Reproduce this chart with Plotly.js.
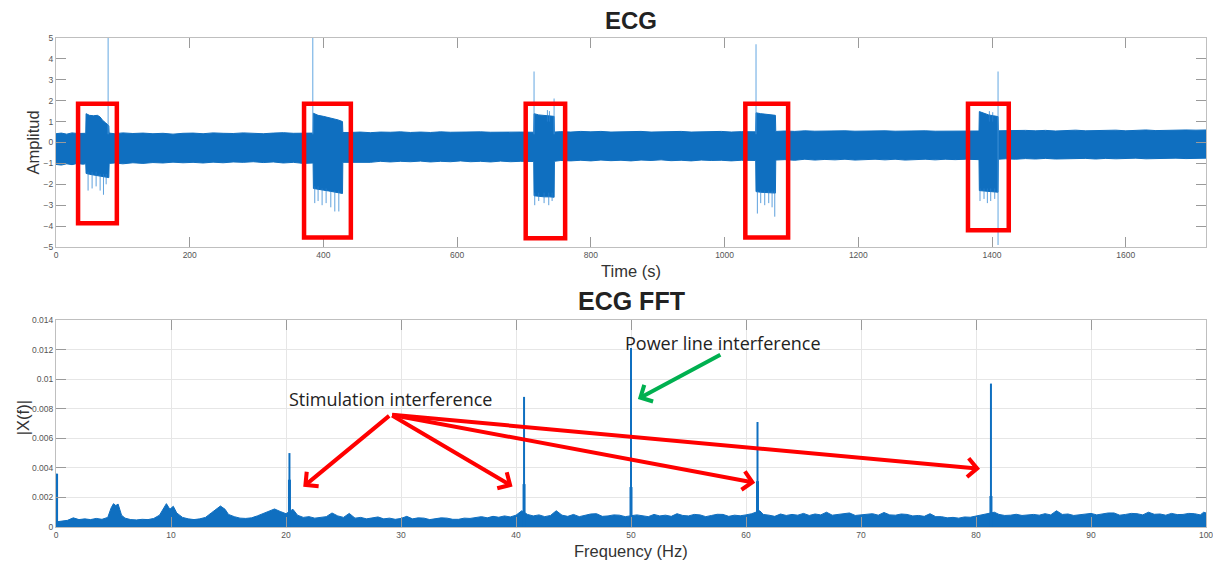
<!DOCTYPE html>
<html>
<head>
<meta charset="utf-8">
<script src="https://cdn.plot.ly/plotly-3.0.1.min.js"></script>
<style>html,body{margin:0;padding:0;background:#fff;}#chart{width:1213px;height:562px;}</style>
</head>
<body>
<div id="chart"></div>
<script>
// ---------- ECG (time domain) : envelope of the dense trace ----------
const ecgTime = [0,8,16,24,32,40,44.5,
  45,50,56,62,66,70,74,79,
  79.5,88,100,115,130,145,160,175,190,205,220,235,250,265,280,295,310,325,340,355,370,384.5,
  385,392,400,408,415,422,428.5,
  429,440,455,470,485,500,515,530,545,560,575,590,605,620,635,650,665,680,695,714.5,
  715,722,730,738,745,
  745.5,755,770,785,800,815,830,845,860,875,890,905,920,935,950,965,980,995,1010,1025,1046.5,
  1047,1054,1062,1070,1076,
  1076.5,1090,1105,1120,1135,1150,1165,1180,1195,1210,1225,1240,1255,1270,1285,1300,1315,1330,1345,1360,1380.5,
  1381,1388,1395,1402,1409,
  1409.5,1420,1435,1450,1465,1480,1495,1510,1525,1540,1555,1570,1585,1600,1615,1630,1645,1660,1675,1690,1705,1720];
const ecgUpper = [0.42,0.45,0.40,0.46,0.43,0.45,0.44,
  1.38,1.30,1.28,1.30,1.22,1.05,0.95,0.80,
  0.45,0.42,0.46,0.43,0.45,0.42,0.44,0.40,0.44,0.45,0.42,0.46,0.44,0.43,0.46,0.44,0.42,0.45,0.47,0.44,0.46,0.45,
  1.40,1.30,1.25,1.20,1.15,1.08,1.00,
  0.48,0.48,0.50,0.47,0.50,0.49,0.51,0.48,0.50,0.48,0.51,0.49,0.50,0.48,0.51,0.49,0.50,0.48,0.50,0.49,
  1.38,1.32,1.30,1.28,1.25,
  0.50,0.52,0.50,0.53,0.51,0.53,0.50,0.52,0.51,0.53,0.50,0.52,0.51,0.53,0.50,0.52,0.51,0.53,0.50,0.52,0.51,
  1.42,1.38,1.35,1.32,1.30,
  0.53,0.55,0.53,0.56,0.54,0.55,0.53,0.56,0.54,0.55,0.53,0.56,0.54,0.55,0.53,0.56,0.54,0.55,0.53,0.56,0.55,
  1.48,1.40,1.32,1.28,1.24,
  0.56,0.57,0.55,0.58,0.56,0.58,0.55,0.57,0.59,0.56,0.58,0.57,0.59,0.56,0.58,0.60,0.57,0.59,0.58,0.60,0.59,0.60];
const ecgLower = [-1.05,-1.08,-1.02,-1.06,-1.00,-1.04,-1.02,
  -1.48,-1.52,-1.55,-1.58,-1.60,-1.62,-1.65,-1.68,
  -1.00,-0.98,-1.02,-0.97,-1.00,-0.96,-0.98,-0.94,-0.97,-0.95,-0.98,-0.94,-0.97,-0.93,-0.95,-0.92,-0.96,-0.93,-0.98,-0.95,-1.00,-0.98,
  -2.20,-2.25,-2.28,-2.32,-2.36,-2.40,-2.44,
  -0.95,-0.95,-0.92,-0.95,-0.90,-0.93,-0.90,-0.92,-0.89,-0.93,-0.90,-0.92,-0.88,-0.92,-0.90,-0.93,-0.89,-0.92,-0.90,-0.91,
  -2.55,-2.58,-2.60,-2.60,-2.62,
  -0.90,-0.86,-0.88,-0.85,-0.88,-0.84,-0.87,-0.85,-0.88,-0.84,-0.86,-0.83,-0.87,-0.85,-0.88,-0.84,-0.86,-0.85,-0.88,-0.85,-0.86,
  -2.35,-2.38,-2.40,-2.42,-2.42,
  -0.84,-0.82,-0.85,-0.80,-0.84,-0.81,-0.83,-0.80,-0.84,-0.82,-0.80,-0.83,-0.80,-0.84,-0.81,-0.80,-0.83,-0.80,-0.82,-0.80,-0.82,
  -2.30,-2.32,-2.34,-2.36,-2.38,
  -0.80,-0.78,-0.80,-0.77,-0.79,-0.76,-0.79,-0.77,-0.78,-0.76,-0.79,-0.76,-0.78,-0.77,-0.75,-0.78,-0.76,-0.77,-0.75,-0.77,-0.76,-0.75];

// tall isolated spikes (thin light lines)
const ecgSpikeTime = [78, 384, 715, 745, 1047, 1409];
const ecgSpikeLow  = [0.4, 0.4, 0.4, 0.4, 0.4, -4.9];
const ecgSpikeHigh = [5.0, 5.0, 3.4, 2.1, 4.7, 3.4];

// hairs poking out of the stimulation bursts
const ecgHairTime = [48,54,60,66,71,75, 387,392,398,404,411,417,423, 716,722,730,737,742, 1049,1054,1060,1066,1071,1075, 1382,1388,1393,1398,1404, 735,738,1396,1401];
const ecgHairLow  = [-2.3,-2.2,-2.1,-2.3,-2.5,-2.0, -2.9,-2.8,-3.0,-2.9,-3.1,-3.3,-3.3, -3.0,-2.8,-2.9,-3.0,-2.8, -3.4,-2.9,-3.0,-2.9,-3.1,-3.55, -2.8,-2.7,-2.9,-2.8,-2.7, 1.0,1.0,1.0,1.0];
const ecgHairHigh = [-1.4,-1.4,-1.4,-1.5,-1.5,-1.5, -2.1,-2.1,-2.2,-2.2,-2.3,-2.3,-2.3, -2.4,-2.4,-2.4,-2.4,-2.4, -2.3,-2.3,-2.3,-2.3,-2.3,-2.3, -2.2,-2.2,-2.2,-2.2,-2.2, 1.55,1.5,1.5,1.45];

// red highlight boxes (time start, time end, amplitude bottom, amplitude top)
const boxT0 = [33, 371, 702.5, 1031, 1364];
const boxT1 = [91, 441, 761.5, 1095, 1425];
const boxA0 = [-3.86, -4.55, -4.58, -4.55, -4.2];
const boxA1 = [1.85, 1.85, 1.85, 1.85, 1.85];

// ---------- FFT ----------
const fftFreq = [0.05,0.5,1.0,1.5,2.0,2.5,3.0,3.5,4.0,4.5,4.8,5.0,5.2,5.4,5.7,6.0,6.5,7.0,7.5,8.0,8.5,9.0,9.4,9.6,9.9,10.2,10.5,11.0,11.5,12.0,12.5,13.0,13.5,14.0,14.3,14.7,15.0,15.5,16.0,16.5,17.0,17.5,18.0,18.5,19.0,19.5,20.0,20.6,21.0,21.5,22.0,22.5,23.0,23.5,24.0,24.5,25.0,25.5,
  26.0,26.5,27.0,27.5,28.0,28.5,29.0,29.5,30.0,30.5,31.0,31.5,32.0,32.5,33.0,33.5,34.0,34.5,35.0,35.5,36.0,36.5,37.0,37.5,38.0,38.5,39.0,39.5,40.0,40.5,41.0,41.5,42.0,42.5,43.0,43.5,44.0,44.5,45.0,45.5,46.0,46.5,47.0,47.5,48.0,48.5,49.0,49.5,
  50.5,51.0,51.5,52.0,52.5,53.0,53.5,54.0,54.5,55.0,55.5,56.0,56.5,57.0,57.5,58.0,58.5,59.0,59.5,60.0,60.5,61.2,61.5,62.0,62.5,63.0,63.5,64.0,64.5,65.0,65.5,66.0,66.5,67.0,67.5,68.0,68.5,69.0,69.5,70.0,70.5,71.0,71.5,72.0,72.5,73.0,73.5,74.0,74.5,75.0,75.5,76.0,76.5,77.0,77.5,78.0,78.5,79.0,79.5,80.0,80.8,
  81.6,82.0,82.5,83.0,83.5,84.0,84.5,85.0,85.5,86.0,86.5,87.0,87.5,88.0,88.5,89.0,89.5,90.0,90.5,91.0,91.5,92.0,92.5,93.0,93.5,94.0,94.5,95.0,95.5,96.0,96.5,97.0,97.5,98.0,98.5,99.0,99.5,99.8,100.0];
const fftMag = [0.00035,0.00040,0.00045,0.00062,0.00050,0.00055,0.00050,0.00058,0.00052,0.00065,0.00130,0.00158,0.00145,0.00155,0.00080,0.00060,0.00050,0.00048,0.00052,0.00050,0.00058,0.00080,0.00130,0.00158,0.00120,0.00140,0.00095,0.00065,0.00055,0.00050,0.00055,0.00065,0.00095,0.00125,0.00142,0.00120,0.00085,0.00070,0.00060,0.00058,0.00062,0.00075,0.00090,0.00110,0.00122,0.00105,0.00090,0.00120,0.00080,0.00065,0.00070,0.00060,0.00065,0.00070,0.00095,0.00075,0.00065,0.00092,
  0.00060,0.00065,0.00055,0.00062,0.00068,0.00055,0.00060,0.00052,0.00058,0.00072,0.00055,0.00062,0.00060,0.00050,0.00055,0.00062,0.00060,0.00052,0.00052,0.00060,0.00058,0.00065,0.00070,0.00062,0.00072,0.00066,0.00075,0.00068,0.00080,0.00110,0.00085,0.00075,0.00082,0.00070,0.00078,0.00110,0.00080,0.00072,0.00085,0.00070,0.00078,0.00088,0.00090,0.00072,0.00075,0.00082,0.00080,0.00070,
  0.00082,0.00078,0.00070,0.00085,0.00075,0.00080,0.00072,0.00090,0.00078,0.00075,0.00085,0.00082,0.00070,0.00078,0.00086,0.00085,0.00072,0.00080,0.00076,0.00082,0.00090,0.00110,0.00085,0.00080,0.00072,0.00088,0.00078,0.00085,0.00080,0.00092,0.00078,0.00088,0.00082,0.00100,0.00080,0.00085,0.00092,0.00095,0.00078,0.00082,0.00088,0.00090,0.00080,0.00098,0.00082,0.00080,0.00088,0.00085,0.00075,0.00078,0.00072,0.00090,0.00070,0.00070,0.00062,0.00065,0.00060,0.00068,0.00066,0.00075,0.00090,
  0.00100,0.00085,0.00078,0.00080,0.00086,0.00078,0.00084,0.00085,0.00080,0.00090,0.00082,0.00110,0.00085,0.00088,0.00078,0.00082,0.00090,0.00092,0.00082,0.00088,0.00095,0.00095,0.00080,0.00085,0.00092,0.00090,0.00082,0.00100,0.00086,0.00088,0.00080,0.00092,0.00084,0.00085,0.00092,0.00090,0.00082,0.00100,0.00095];

const fftSpikeFreq = [0.05, 20.3, 40.7, 50.0, 61.0, 81.3];
const fftSpikeTop  = [0.0036, 0.0050, 0.0088, 0.0121, 0.0071, 0.0097];
const fftSpikeMid  = [0.0036, 0.0032, 0.0029, 0.0027, 0.0031, 0.0021];

const xTicksECG = [0,200,400,600,800,1000,1200,1400,1600];
const yTicksECG = [-5,-4,-3,-2,-1,0,1,2,3,4,5];
const xTicksFFT = [0,10,20,30,40,50,60,70,80,90,100];
const yTicksFFT = [0,0.002,0.004,0.006,0.008,0.010,0.012,0.014];
const yTickTextFFT = ['0','0.002','0.004','0.006','0.008','0.01','0.012','0.014'];

// annotation labels
const stimLabel = 'Stimulation interference';
const powerLabel = 'Power line interference';
const stimOrigin = [29.1, 0.0076];
const stimTipsF = [21.5, 39.7, 60.8, 80.35];
const stimTipsA = [0.00272, 0.00274, 0.00299, 0.00394];
const powerTail = [57.9, 0.0117];
const powerTip = [50.6, 0.00866];

// ---------- build ----------
const BLUE = '#0f6fc0';
function segments(xs, lo, hi) {
  const x = [], y = [];
  xs.forEach((v, i) => { x.push(v, v, null); y.push(lo[i], hi[i], null); });
  return {x, y};
}
const spk = segments(ecgSpikeTime, ecgSpikeLow, ecgSpikeHigh);
const hair = segments(ecgHairTime, ecgHairLow, ecgHairHigh);
const fftThin = segments(fftSpikeFreq, fftSpikeFreq.map(() => 0), fftSpikeTop);
const fftThick = segments(fftSpikeFreq, fftSpikeFreq.map(() => 0), fftSpikeMid);

const traces = [
  {x: ecgTime, y: ecgLower, type: 'scatter', mode: 'lines', line: {color: BLUE, width: 1}, xaxis: 'x', yaxis: 'y', hoverinfo: 'skip'},
  {x: ecgTime, y: ecgUpper, type: 'scatter', mode: 'lines', fill: 'tonexty', fillcolor: BLUE, line: {color: BLUE, width: 1}, xaxis: 'x', yaxis: 'y'},
  {x: hair.x, y: hair.y, type: 'scatter', mode: 'lines', line: {color: 'rgba(40,130,210,0.75)', width: 1}, xaxis: 'x', yaxis: 'y', connectgaps: false},
  {x: spk.x, y: spk.y, type: 'scatter', mode: 'lines', line: {color: 'rgba(70,150,220,0.65)', width: 1.3}, xaxis: 'x', yaxis: 'y', connectgaps: false},
  {x: fftFreq, y: fftMag, type: 'scatter', mode: 'lines', fill: 'tozeroy', fillcolor: BLUE, line: {color: BLUE, width: 1}, xaxis: 'x2', yaxis: 'y2'},
  {x: fftThin.x, y: fftThin.y, type: 'scatter', mode: 'lines', line: {color: BLUE, width: 2}, xaxis: 'x2', yaxis: 'y2', connectgaps: false},
  {x: fftThick.x, y: fftThick.y, type: 'scatter', mode: 'lines', line: {color: BLUE, width: 3}, xaxis: 'x2', yaxis: 'y2', connectgaps: false}
];

const shapes = boxT0.map((t0, i) => ({
  type: 'rect', xref: 'x', yref: 'y', x0: t0, x1: boxT1[i], y0: boxA0[i], y1: boxA1[i],
  line: {color: '#ff0000', width: 4.5}, fillcolor: 'rgba(0,0,0,0)'
}));

const tickFont = {family: 'Liberation Sans, Arial, sans-serif', size: 8.5, color: '#555'};
const axCommon = {
  showline: true, linecolor: '#bfbfbf', linewidth: 1, mirror: 'ticks',
  ticks: 'inside', ticklen: 10, tickcolor: '#9a9a9a', tickwidth: 1,
  zeroline: false, tickfont: tickFont, fixedrange: true, ticklabeloverflow: 'allow'
};

const ann = [];
const titleFont = {family: 'Liberation Sans, Arial, sans-serif', color: '#222'};
const labFont = {family: 'Liberation Sans, Arial, sans-serif', size: 16.5, color: '#333'};
ann.push({text: '<b>ECG</b>', xref: 'paper', yref: 'paper', x: 0.5, y: 1.0368, showarrow: false, xanchor: 'center', yanchor: 'middle', font: Object.assign({size: 24}, titleFont)});
ann.push({text: '<b>ECG FFT</b>', xref: 'paper', yref: 'paper', x: 0.5, y: 0.4622, showarrow: false, xanchor: 'center', yanchor: 'middle', font: Object.assign({size: 25}, titleFont)});
ann.push({text: 'Time (s)', xref: 'paper', yref: 'paper', x: 0.5, y: 0.5235, showarrow: false, xanchor: 'center', yanchor: 'middle', font: labFont});
ann.push({text: 'Frequency (Hz)', xref: 'paper', yref: 'paper', x: 0.5, y: -0.0491, showarrow: false, xanchor: 'center', yanchor: 'middle', font: labFont});
ann.push({text: 'Amplitud', xref: 'paper', yref: 'paper', x: -0.02, y: 0.7863, textangle: -90, showarrow: false, xanchor: 'center', yanchor: 'middle', font: labFont});
ann.push({text: '|X(f)|', xref: 'paper', yref: 'paper', x: -0.0285, y: 0.223, textangle: -90, showarrow: false, xanchor: 'center', yanchor: 'middle', font: labFont});

const noteFont = {family: 'Open Sans, Noto Sans, sans-serif', size: 18, color: '#222'};
ann.push({text: stimLabel, xref: 'x2', yref: 'y2', x: 29.05, y: 0.00867, showarrow: false, xanchor: 'center', yanchor: 'middle', font: noteFont});
ann.push({text: powerLabel, xref: 'x2', yref: 'y2', x: 57.96, y: 0.01245, showarrow: false, xanchor: 'center', yanchor: 'middle', font: noteFont});
stimTipsF.forEach((f, i) => {
  ann.push({text: '', xref: 'x2', yref: 'y2', axref: 'x2', ayref: 'y2', x: f, y: stimTipsA[i], ax: stimOrigin[0], ay: stimOrigin[1],
    showarrow: true, arrowhead: 4, arrowsize: 0.9, arrowwidth: 4, arrowcolor: '#ff0000', standoff: 0, startstandoff: 0});
});
ann.push({text: '', xref: 'x2', yref: 'y2', axref: 'x2', ayref: 'y2', x: powerTip[0], y: powerTip[1], ax: powerTail[0], ay: powerTail[1],
  showarrow: true, arrowhead: 4, arrowsize: 0.9, arrowwidth: 4, arrowcolor: '#00b050', standoff: 0, startstandoff: 0});

const layout = {
  width: 1213, height: 562,
  margin: {l: 56, r: 7, t: 38, b: 35},
  paper_bgcolor: '#fff', plot_bgcolor: '#fff',
  showlegend: false,
  xaxis: Object.assign({}, axCommon, {domain: [0, 1], anchor: 'y', range: [0, 1720], tickvals: xTicksECG, showgrid: false}),
  yaxis: Object.assign({}, axCommon, {domain: [0.5726, 1], anchor: 'x', range: [-5, 5], tickvals: yTicksECG, showgrid: false}),
  xaxis2: Object.assign({}, axCommon, {domain: [0, 1], anchor: 'y2', range: [0, 100.0001], tickvals: xTicksFFT, showgrid: true, gridcolor: '#e6e6e6'}),
  yaxis2: Object.assign({}, axCommon, {domain: [0, 0.4233], anchor: 'x2', range: [0, 0.014], tickvals: yTicksFFT, ticktext: yTickTextFFT, showgrid: true, gridcolor: '#e6e6e6'}),
  shapes: shapes,
  annotations: ann
};

Plotly.newPlot('chart', traces, layout, {displayModeBar: false, staticPlot: true});
</script>
</body>
</html>
